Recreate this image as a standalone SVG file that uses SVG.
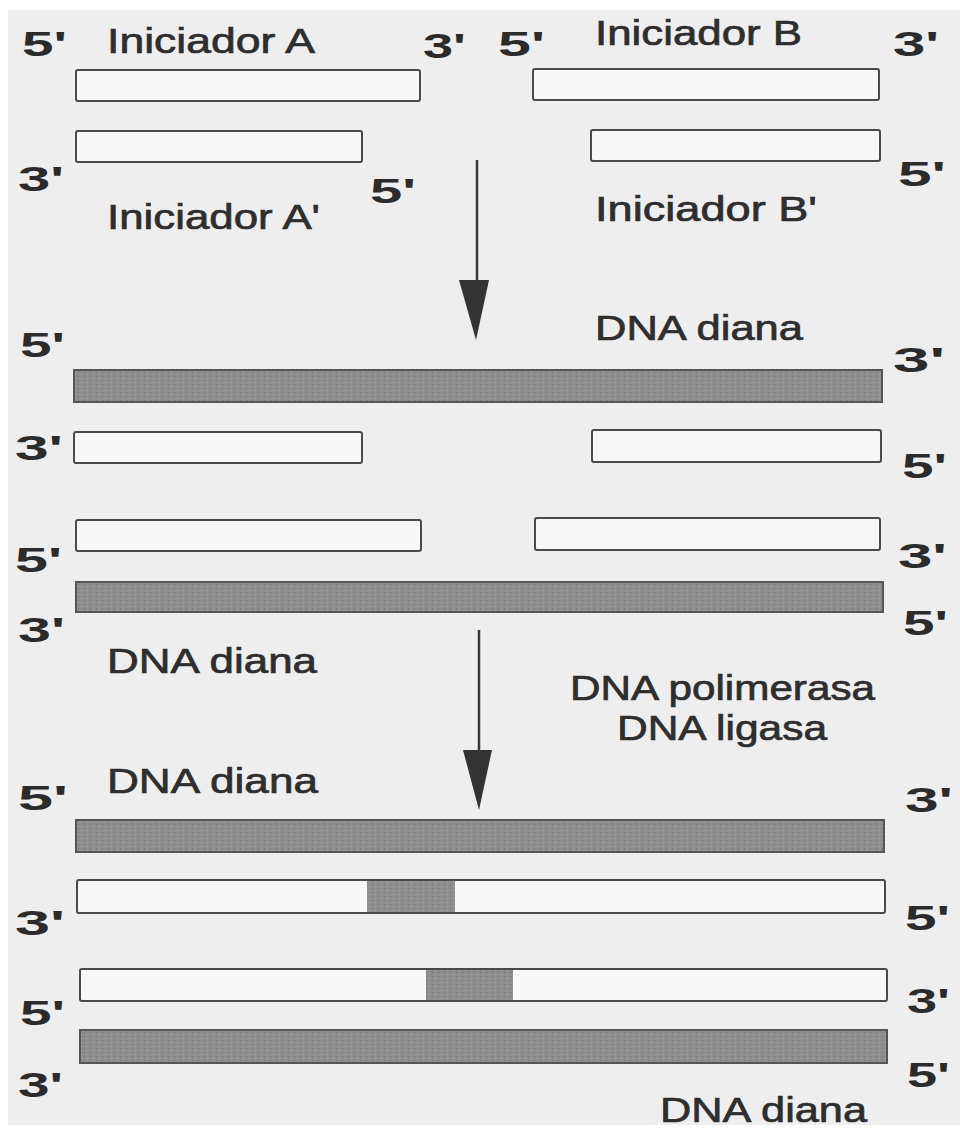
<svg xmlns="http://www.w3.org/2000/svg" width="960" height="1131" viewBox="0 0 960 1131">
  <defs>
    <pattern id="grain" width="6" height="4" patternUnits="userSpaceOnUse">
      <rect width="6" height="4" fill="#8e8e8e"/>
      <rect x="0" y="0" width="1" height="1" fill="#6e6e6e"/>
      <rect x="3" y="2" width="1" height="1" fill="#a6a6a6"/>
    </pattern>
  </defs>
  <style>
    .bg { fill: #eeeeee; }
    .open { fill: #f8f8f8; stroke: #4a4a4a; stroke-width: 2; }
    .bar { fill: url(#grain); stroke: #555555; stroke-width: 2; }
    .blk { fill: url(#grain); stroke: none; }
    .end { font-family: "Liberation Sans", Arial, sans-serif; font-weight: bold; font-size: 35px; fill: #2b2b2b; }
    .lbl { font-family: "Liberation Sans", Arial, sans-serif; font-size: 35px; fill: #2e2e2e; stroke: #2e2e2e; stroke-width: 0.7; }
    .shaft { stroke: #3a3a3a; stroke-width: 2.5; fill: none; }
    .head { fill: #333333; }
  </style>
  <rect x="0" y="0" width="960" height="1131" fill="#ffffff"/>
  <rect class="bg" x="8" y="10" width="952" height="1115"/>

  <g id="connectors">
    <line class="shaft" x1="477" y1="160" x2="477" y2="284"/>
    <polygon class="head" points="459,280 489,280 476,340"/>
    <line class="shaft" x1="479" y1="630" x2="479" y2="754"/>
    <polygon class="head" points="463,750 492,750 479,810"/>
  </g>

  <g id="primer-A">
    <rect class="open" x="76" y="70" width="344" height="31" rx="2"/>
    <text class="end" x="22" y="56" textLength="45" lengthAdjust="spacingAndGlyphs">5'</text>
    <text class="lbl" x="107" y="53" textLength="208" lengthAdjust="spacingAndGlyphs">Iniciador A</text>
    <text class="end" x="423" y="58" textLength="43" lengthAdjust="spacingAndGlyphs">3'</text>
  </g>
  <g id="primer-B">
    <rect class="open" x="533" y="69" width="346" height="31" rx="2"/>
    <text class="end" x="498" y="56" textLength="47" lengthAdjust="spacingAndGlyphs">5'</text>
    <text class="lbl" x="595" y="45" textLength="207" lengthAdjust="spacingAndGlyphs">Iniciador B</text>
    <text class="end" x="893" y="56" textLength="46" lengthAdjust="spacingAndGlyphs">3'</text>
  </g>
  <g id="primer-A-prime">
    <rect class="open" x="76" y="131" width="286" height="31" rx="2"/>
    <text class="end" x="18" y="191" textLength="46" lengthAdjust="spacingAndGlyphs">3'</text>
    <text class="end" x="370" y="203" textLength="46" lengthAdjust="spacingAndGlyphs">5'</text>
    <text class="lbl" x="107" y="229" textLength="213" lengthAdjust="spacingAndGlyphs">Iniciador A'</text>
  </g>
  <g id="primer-B-prime">
    <rect class="open" x="591" y="130" width="289" height="31" rx="2"/>
    <text class="end" x="898" y="186" textLength="48" lengthAdjust="spacingAndGlyphs">5'</text>
    <text class="lbl" x="595" y="221" textLength="222" lengthAdjust="spacingAndGlyphs">Iniciador B'</text>
  </g>

  <g id="target-1-top">
    <text class="end" x="20" y="357" textLength="45" lengthAdjust="spacingAndGlyphs">5'</text>
    <text class="lbl" x="595" y="340" textLength="208" lengthAdjust="spacingAndGlyphs">DNA diana</text>
    <text class="end" x="893" y="372" textLength="52" lengthAdjust="spacingAndGlyphs">3'</text>
    <rect class="bar" x="74" y="370" width="808" height="32"/>
  </g>
  <g id="annealed-A-prime">
    <rect class="open" x="74" y="432" width="288" height="31" rx="2"/>
    <text class="end" x="15" y="460" textLength="48" lengthAdjust="spacingAndGlyphs">3'</text>
  </g>
  <g id="annealed-B-prime">
    <rect class="open" x="592" y="430" width="289" height="32" rx="2"/>
    <text class="end" x="902" y="478" textLength="45" lengthAdjust="spacingAndGlyphs">5'</text>
  </g>
  <g id="annealed-A">
    <rect class="open" x="76" y="520" width="345" height="31" rx="2"/>
    <text class="end" x="15" y="572" textLength="47" lengthAdjust="spacingAndGlyphs">5'</text>
  </g>
  <g id="annealed-B">
    <rect class="open" x="535" y="518" width="345" height="32" rx="2"/>
    <text class="end" x="898" y="568" textLength="49" lengthAdjust="spacingAndGlyphs">3'</text>
  </g>
  <g id="target-1-bottom">
    <rect class="bar" x="76" y="582" width="807" height="30"/>
    <text class="end" x="18" y="642" textLength="47" lengthAdjust="spacingAndGlyphs">3'</text>
    <text class="end" x="903" y="635" textLength="45" lengthAdjust="spacingAndGlyphs">5'</text>
    <text class="lbl" x="107" y="673" textLength="210" lengthAdjust="spacingAndGlyphs">DNA diana</text>
  </g>

  <g id="enzymes">
    <text class="lbl" x="570" y="700" textLength="305" lengthAdjust="spacingAndGlyphs">DNA polimerasa</text>
    <text class="lbl" x="617" y="740" textLength="210" lengthAdjust="spacingAndGlyphs">DNA ligasa</text>
  </g>

  <g id="target-2-top">
    <text class="lbl" x="107" y="793" textLength="211" lengthAdjust="spacingAndGlyphs">DNA diana</text>
    <text class="end" x="18" y="810" textLength="50" lengthAdjust="spacingAndGlyphs">5'</text>
    <text class="end" x="905" y="812" textLength="48" lengthAdjust="spacingAndGlyphs">3'</text>
    <rect class="bar" x="76" y="820" width="808" height="32"/>
  </g>
  <g id="product-1">
    <rect class="open" x="77" y="880" width="808" height="33" rx="2"/>
    <rect class="blk" x="367" y="881" width="88" height="31"/>
    <text class="end" x="15" y="935" textLength="50" lengthAdjust="spacingAndGlyphs">3'</text>
    <text class="end" x="905" y="930" textLength="45" lengthAdjust="spacingAndGlyphs">5'</text>
  </g>
  <g id="product-2">
    <rect class="open" x="80" y="969" width="807" height="32" rx="2"/>
    <rect class="blk" x="426" y="970" width="87" height="30"/>
    <text class="end" x="20" y="1025" textLength="45" lengthAdjust="spacingAndGlyphs">5'</text>
    <text class="end" x="907" y="1013" textLength="43" lengthAdjust="spacingAndGlyphs">3'</text>
  </g>
  <g id="target-2-bottom">
    <rect class="bar" x="80" y="1030" width="807" height="33"/>
    <text class="end" x="18" y="1097" textLength="45" lengthAdjust="spacingAndGlyphs">3'</text>
    <text class="end" x="907" y="1087" textLength="43" lengthAdjust="spacingAndGlyphs">5'</text>
    <text class="lbl" x="660" y="1122" textLength="207" lengthAdjust="spacingAndGlyphs">DNA diana</text>
  </g>
</svg>
